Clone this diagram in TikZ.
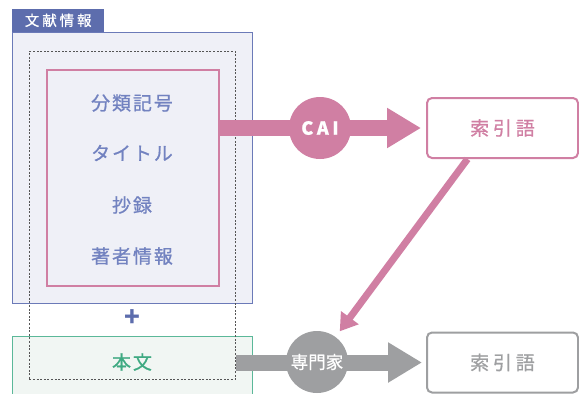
\documentclass[tikz,border=0pt]{standalone}
\usepackage{fontspec}
\setmainfont{Noto Sans CJK JP}
\newfontfamily\jpsp[LetterSpace=10,FakeBold=0.8]{Noto Sans CJK JP}
\newfontfamily\jpwide[LetterSpace=20,FakeBold=0.8]{Noto Sans CJK JP}
\newfontfamily\jpmed[FakeBold=0.8]{Noto Sans CJK JP}
\usetikzlibrary{arrows.meta}
\definecolor{bluebd}{HTML}{6B7AB8}
\definecolor{bluebg}{HTML}{EFF0F7}
\definecolor{bluetab}{HTML}{5D6DAD}
\definecolor{bluetxt}{HTML}{7282C0}
\definecolor{pinkc}{HTML}{D07FA3}
\definecolor{greenbd}{HTML}{5BB899}
\definecolor{greenbg}{HTML}{F1F6F3}
\definecolor{greentxt}{HTML}{3FAA82}
\definecolor{grayc}{HTML}{9E9FA1}
\definecolor{dotgray}{HTML}{555555}
\begin{document}
\begin{tikzpicture}[x=1pt,y=-1pt,
  box/.style={inner sep=0pt, anchor=north west},
  item/.style={text=bluetxt, font=\jpsp\fontsize{19}{19}\selectfont, inner sep=0pt},
  idxbox/.style={draw, line width=2pt, fill=white, rounded corners=5pt, minimum width=151pt, minimum height=60pt, inner sep=0pt, font=\jpwide\fontsize{19}{19}\selectfont},
  bigarrow/.style={line width=16pt, -{Triangle[length=34pt,width=38pt]}},
  circ/.style={circle, minimum size=62pt, inner sep=0pt, text=white},
]
\clip (0,0) rectangle (579,394);
\fill[white] (0,0) rectangle (579,394);
% 文献情報 box
\node[box, draw=bluebd, fill=bluebg, line width=1.2pt, minimum width=240pt, minimum height=271pt] (info) at (12,32) {};
\node[fill=bluetab, anchor=south west, minimum width=92pt, minimum height=23pt, inner sep=0pt, text=white, font=\jpwide\fontsize{14.5}{14.5}\selectfont] (tab) at (info.north west) {文献情報};
% 本文 box
\node[box, draw=greenbd, fill=greenbg, line width=1.2pt, minimum width=240pt, minimum height=90pt] (body) at (12,336) {};
\node[text=greentxt, font=\jpsp\fontsize{19}{19}\selectfont, inner sep=0pt] (bodytxt) at (132,362) {本文};
% dotted scope
\node[box, draw=dotgray, dash pattern=on 2pt off 1.6pt, line width=0.7pt, minimum width=206pt, minimum height=328pt] (scope) at (29,51) {};
% pink box
\node[box, draw=pinkc, line width=1.8pt, minimum width=172pt, minimum height=216pt] (pbox) at (46,69) {};
\node[item] (i1) at (132,103) {分類記号};
\node[item] (i2) at (132,153) {タイトル};
\node[item] (i3) at (132,205) {抄録};
\node[item] (i4) at (132,256) {著者情報};
\node[text=bluetab, font=\bfseries\fontsize{26}{26}\selectfont, inner sep=0pt] (plus) at (132,318) {+};
% index boxes
\node[idxbox, draw=pinkc, text=pinkc] (idx1) at (502.5,128) {索引語};
\node[idxbox, draw=grayc, text=grayc] (idx2) at (502.5,362.5) {索引語};
% arrows
\draw[bigarrow, draw=pinkc, fill=pinkc, shorten >=5pt] (pbox.east |- idx1.west) -- (idx1.west);
\node[circ, fill=pinkc, font=\jpwide\bfseries\fontsize{18}{18}\selectfont] (cai) at (320,128) {CAI};
\draw[bigarrow, draw=grayc, fill=grayc, shorten >=4pt] (scope.east |- idx2.west) -- (idx2.west);
\node[circ, fill=grayc, font=\jpmed\fontsize{17.5}{17.5}\selectfont] (expert) at (317,362) {専門家};
\draw[pinkc, line width=7pt, -{Triangle[length=17pt,width=21pt]}, shorten >=7pt] ([xshift=-35pt]idx1.south) -- (expert);
\end{tikzpicture}
\end{document}
